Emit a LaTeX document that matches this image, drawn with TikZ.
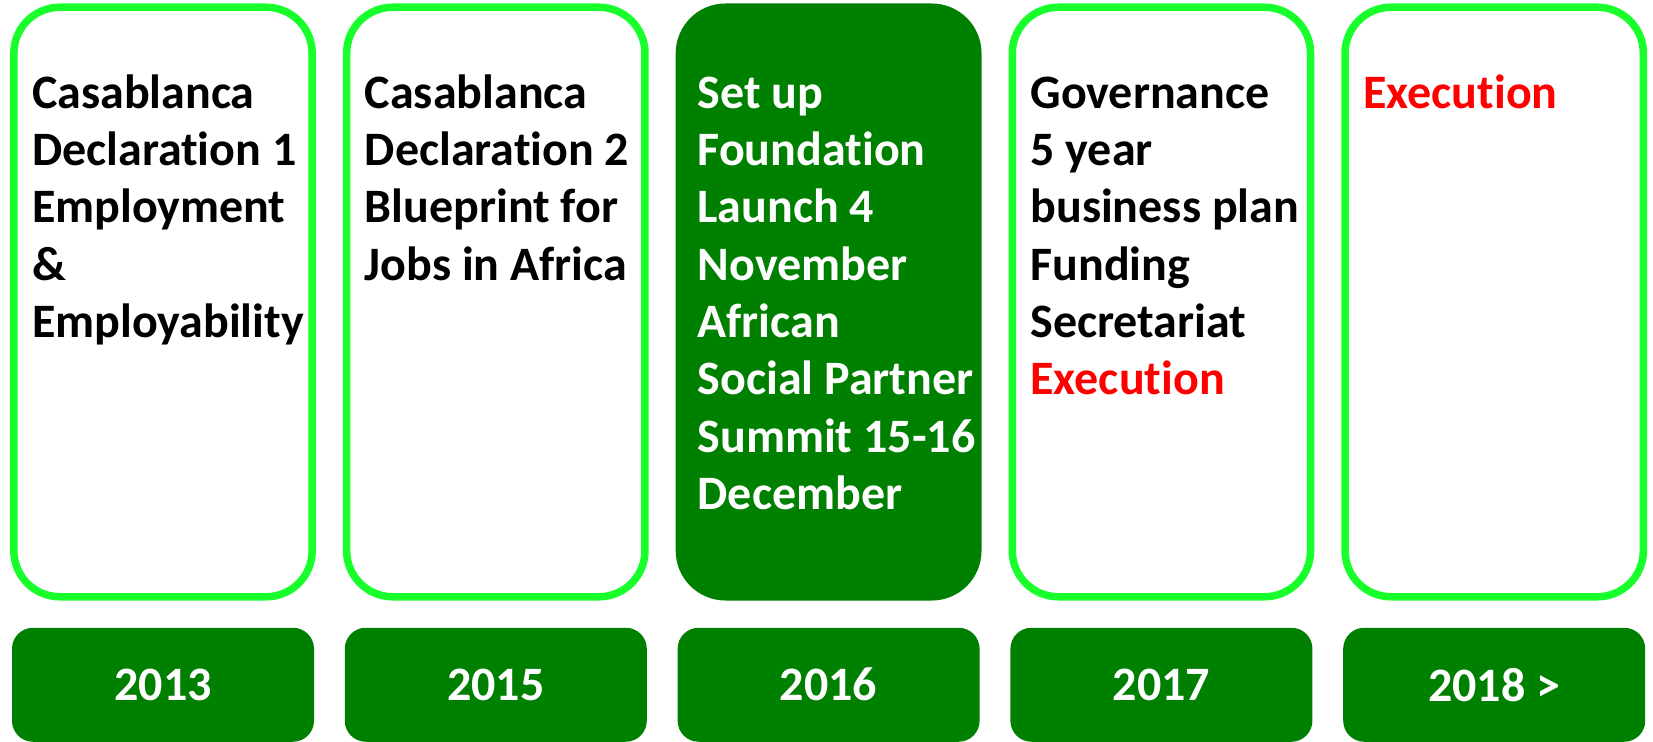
\documentclass[tikz,border=0pt]{standalone}
\usepackage{fontspec}
\newfontfamily\calib[RawFeature={-liga;-clig;-dlig},
  BoldFont={Carlito Bold}, BoldFeatures={RawFeature={-liga;-clig;-dlig}}]{Carlito}
\usetikzlibrary{positioning}
\newcommand\tibreak{\kern0pt}
\newcommand\tightwords{\spaceskip 0.226em\relax}
\definecolor{limegreen}{RGB}{24,255,44}
\definecolor{darkgreen}{RGB}{0,128,0}
\definecolor{execred}{RGB}{255,0,0}
\tikzset{
topbox/.style={draw=limegreen, line width=7.5pt, fill=white, rounded corners=46pt,
  minimum width=298.3pt, minimum height=589.5pt, outer sep=0pt, inner sep=0pt},
filledbox/.style={topbox, draw=darkgreen, fill=darkgreen},
yearbox/.style={fill=darkgreen, rounded corners=21pt, minimum width=302pt,
  minimum height=114pt, outer sep=0pt, inner sep=0pt, text=white,
  font={\calib\bfseries\fontsize{48}{57.3}\selectfont}},
boxtext/.style={anchor=base west, align=left, text width=295pt, inner sep=0pt,
  font={\calib\bfseries\fontsize{48}{57.3}\selectfont}, execute at begin node=\tightwords}
}
\begin{document}
\begin{tikzpicture}
\useasboundingbox (0pt,0pt) rectangle (1653pt,-741pt);
\node[topbox](b1) at (163pt,-302pt) {};
\node[topbox, right=34.5pt of b1](b2) {};
\node[filledbox, right=34.5pt of b2](b3) {};
\node[topbox, right=34.5pt of b3](b4) {};
\node[topbox, right=34.5pt of b4](b5) {};
\node[yearbox, below=31pt of b1](y1) {2013};
\node[yearbox, right=30.8pt of y1](y2) {2015};
\node[yearbox, right=30.8pt of y2](y3) {2016};
\node[yearbox, right=30.8pt of y3](y4) {2017};
\node[yearbox, right=30.8pt of y4](y5) {2018 >};
\node[boxtext] (t1) at ([shift={(18pt,-101pt)}]b1.north west)
  {Casablanca\\Declarat\tibreak ion 1\\Employment\\\&\\Employability};
\node[boxtext] (t2) at ([shift={(18pt,-101pt)}]b2.north west)
  {Casablanca\\Declarat\tibreak ion 2\\Blueprint for\\Jobs in Africa};
\node[boxtext, text=white] (t3) at ([shift={(18pt,-101pt)}]b3.north west)
  {Set up\\Foundat\tibreak ion\\Launch 4\\November\\African\\Social Partner\\Summit 15-16\\December};
\node[boxtext] (t4) at ([shift={(18pt,-101pt)}]b4.north west)
  {Governance\\5 year\\business plan\\Funding\\Secretariat\\\textcolor{execred}{Execut\tibreak ion}};
\node[boxtext, text=execred] (t5) at ([shift={(18pt,-101pt)}]b5.north west)
  {Execut\tibreak ion};
\end{tikzpicture}
\end{document}
